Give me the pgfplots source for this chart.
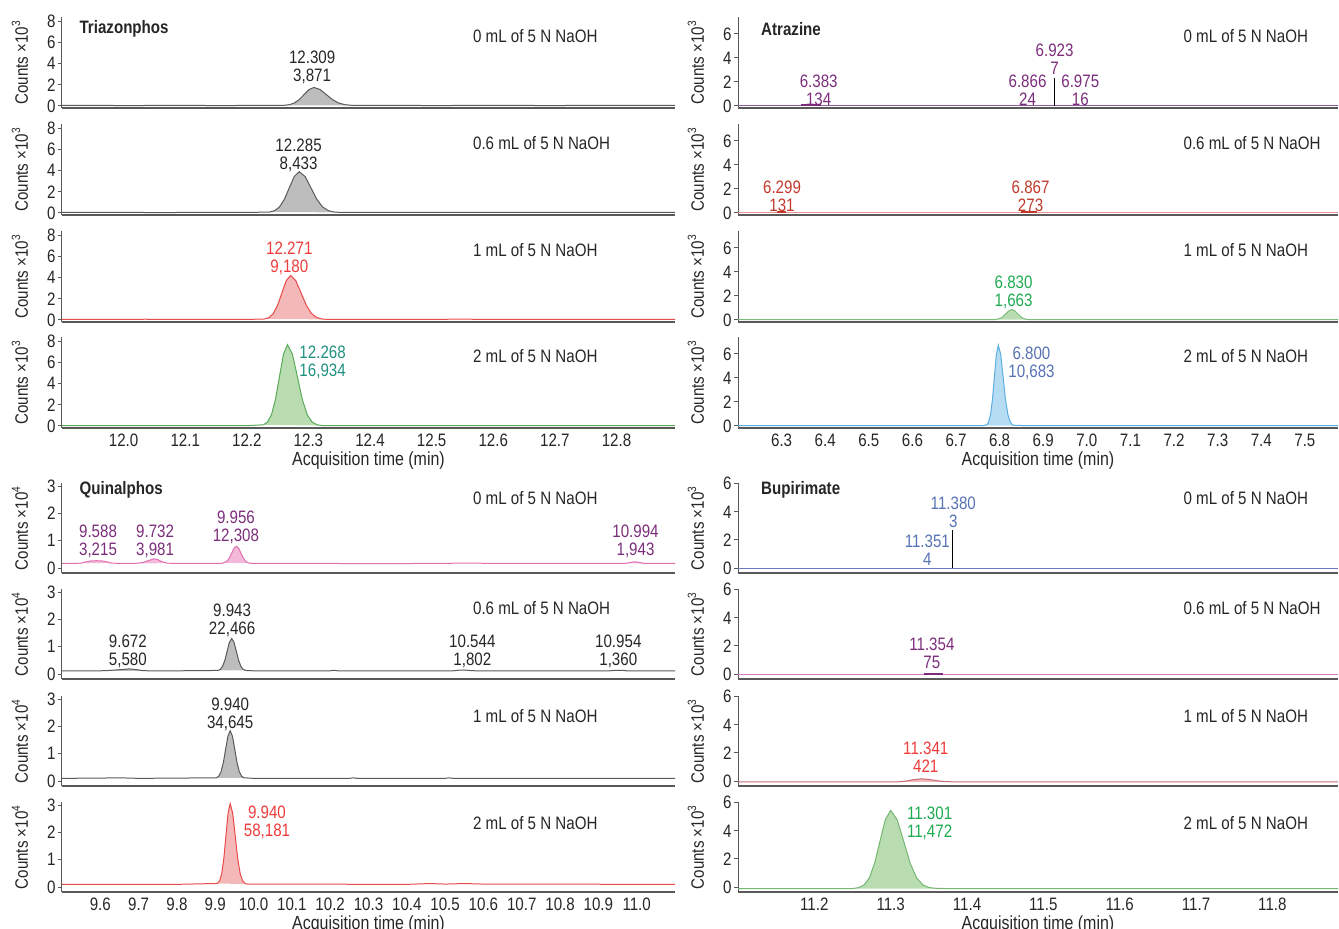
\documentclass[border=0pt]{standalone}
\usepackage{fontspec}
\setmainfont{Liberation Sans}[FakeStretch=0.84]
\usepackage{pgfplots}
\pgfplotsset{compat=1.18}

\definecolor{gline}{HTML}{5A5A5A}
\definecolor{gbase}{HTML}{8A8A8A}
\definecolor{gfill}{HTML}{BDBDBD}
\definecolor{rline}{HTML}{E84A4A}
\definecolor{rfill}{HTML}{F5B8B8}
\definecolor{grline}{HTML}{5AAA5A}
\definecolor{grfill}{HTML}{B9DDB1}
\definecolor{purpline}{HTML}{8E5C9E}
\definecolor{pinkline}{HTML}{E89494}
\definecolor{blline}{HTML}{5AAEE0}
\definecolor{blfill}{HTML}{B6DCF4}
\definecolor{mgline}{HTML}{E070B0}
\definecolor{mgfill}{HTML}{F3B9D9}
\definecolor{bupblue}{HTML}{6A78C8}
\definecolor{buppink}{HTML}{D678C8}
\definecolor{bupred}{HTML}{C46A78}
\definecolor{lpurple}{HTML}{7B2D7B}
\definecolor{lred}{HTML}{EE3B3B}
\definecolor{lteal}{HTML}{1E9080}
\definecolor{ldred}{HTML}{C0392B}
\definecolor{lgreen}{HTML}{1DAA50}
\definecolor{lblue}{HTML}{5672B4}
\definecolor{ltxt}{HTML}{262626}

\tikzset{
  cond/.style={font=\fontsize{9}{9}\selectfont, text=ltxt, anchor=west, inner sep=0pt},
  ttl/.style={font=\bfseries\fontsize{9}{9}\selectfont, text=ltxt, anchor=west, inner sep=0pt},
  lab/.style={font=\fontsize{9}{9}\selectfont, align=center, inner sep=0pt},
}

\pgfplotsset{
  base/.style={
    scale only axis, height=45.5pt, clip mode=individual,
    axis x line*=bottom, axis y line*=left,
    axis line style={-},
    x axis line style={draw=black!65, line width=1.3pt},
    y axis line style={draw=black!65, line width=0.5pt},
    tick align=outside, major tick length=2pt,
    xtick style={draw=none},
    ytick style={draw=black!65, line width=0.5pt},
    tick label style={font=\fontsize{9}{9}\selectfont, text=ltxt},
    yticklabel style={inner sep=1pt},
    /pgf/number format/assume math mode=true,
    xticklabel style={inner sep=1pt, /pgf/number format/.cd, fixed, fixed zerofill, precision=1},
    ylabel style={font=\fontsize{9}{9}\selectfont, text=ltxt, at={([xshift=-13.5pt]axis description cs:0,0.5)}, anchor=south},
    xlabel style={font=\fontsize{9.5}{9.5}\selectfont, text=ltxt, at={([yshift=-11.8pt]axis description cs:0.5,0)}, anchor=north, inner sep=0pt},
    ylabel={Counts ×10\textsuperscript{3}},
    every axis plot/.append style={line width=0.5pt},
  },
  tzp/.style={base, width=306.5pt, xmin=11.9, xmax=12.895, ymin=-0.19, ymax=8.4, ytick={0,2,4,6,8},
    xtick={12.0,12.1,12.2,12.3,12.4,12.5,12.6,12.7,12.8}},
  atz/.style={base, width=300pt, xmin=6.2, xmax=7.576, ymin=-0.17, ymax=7.4, ytick={0,2,4,6},
    xtick={6.3,6.4,6.5,6.6,6.7,6.8,6.9,7.0,7.1,7.2,7.3,7.4,7.5}},
  qnp/.style={base, width=306.5pt, height=45pt, xmin=9.5, xmax=11.1, ymin=-0.18, ymax=3.11, ytick={0,1,2,3},
    xtick={9.6,9.7,9.8,9.9,10.0,10.1,10.2,10.3,10.4,10.5,10.6,10.7,10.8,10.9,11.0},
    ylabel={Counts ×10\textsuperscript{4}}},
  bup/.style={base, width=300pt, height=45pt, xmin=11.1, xmax=11.886, ymin=-0.35, ymax=6.05, ytick={0,2,4,6},
    xtick={11.2,11.3,11.4,11.5,11.6,11.7,11.8}},
  mid/.style={xticklabels={}},
  bot/.style={xlabel={Acquisition time (min)}},
}

\begin{document}
\begin{tikzpicture}
\useasboundingbox (0,0) rectangle (669.5pt,-464pt);

%================ Triazonphos ================
\begin{axis}[tzp, mid, at={(31pt,-54pt)}, anchor=south west]
\addplot[draw=none, fill=gfill] coordinates {(12.261,0.07)(12.269,0.125)(12.277,0.28)(12.285,0.60)(12.293,1.08)(12.301,1.55)(12.309,1.75)(12.319,1.55)(12.329,1.08)(12.339,0.60)(12.349,0.28)(12.359,0.125)(12.369,0.07)(12.379,0.054)} -- cycle;
\addplot[gline] coordinates {(11.9,0.05)(11.95,0.06)(12.0,0.04)(12.05,0.05)(12.1,0.06)(12.15,0.04)(12.2,0.05)(12.25,0.05)(12.261,0.07)(12.269,0.125)(12.277,0.28)(12.285,0.60)(12.293,1.08)(12.301,1.55)(12.309,1.75)(12.319,1.55)(12.329,1.08)(12.339,0.60)(12.349,0.28)(12.359,0.125)(12.369,0.07)(12.379,0.054)(12.4,0.05)(12.45,0.06)(12.5,0.04)(12.55,0.05)(12.6,0.06)(12.65,0.05)(12.7,0.04)(12.75,0.06)(12.8,0.05)(12.85,0.05)(12.895,0.06)};
\node[ttl] at (rel axis cs:0.028,0.87) {Triazonphos};
\node[cond] at (rel axis cs:0.67,0.79) {0 mL of 5 N NaOH};
\node[lab, text=ltxt] at (axis cs:12.306,3.6) {12.309\\3,871};
\end{axis}

\begin{axis}[tzp, mid, at={(31pt,-107.5pt)}, anchor=south west]
\addplot[draw=none, fill=gfill] coordinates {(12.237,0.09)(12.245,0.22)(12.253,0.57)(12.261,1.30)(12.269,2.39)(12.277,3.45)(12.285,3.9)(12.2945,3.45)(12.304,2.39)(12.3135,1.30)(12.323,0.57)(12.3325,0.22)(12.342,0.09)(12.3515,0.06)} -- cycle;
\addplot[gline] coordinates {(11.9,0.05)(11.95,0.06)(12.0,0.06)(12.05,0.04)(12.1,0.05)(12.15,0.05)(12.2,0.05)(12.237,0.09)(12.245,0.22)(12.253,0.57)(12.261,1.30)(12.269,2.39)(12.277,3.45)(12.285,3.9)(12.2945,3.45)(12.304,2.39)(12.3135,1.30)(12.323,0.57)(12.3325,0.22)(12.342,0.09)(12.3515,0.06)(12.4,0.05)(12.5,0.06)(12.6,0.05)(12.7,0.05)(12.8,0.06)(12.895,0.05)};
\node[cond] at (rel axis cs:0.67,0.79) {0.6 mL of 5 N NaOH};
\node[lab, text=ltxt] at (axis cs:12.284,5.45) {12.285\\8,433};
\end{axis}

\begin{axis}[tzp, mid, at={(31pt,-161pt)}, anchor=south west]
\addplot[draw=none, fill=rfill] coordinates {(12.229,0.096)(12.236,0.23)(12.243,0.61)(12.25,1.40)(12.257,2.57)(12.264,3.71)(12.271,4.2)(12.2795,3.71)(12.288,2.57)(12.2965,1.40)(12.305,0.61)(12.3135,0.23)(12.322,0.096)(12.3305,0.06)} -- cycle;
\addplot[rline] coordinates {(11.9,0.05)(12.0,0.05)(12.03,0.05)(12.035,0.09)(12.04,0.05)(12.1,0.05)(12.2,0.05)(12.229,0.096)(12.236,0.23)(12.243,0.61)(12.25,1.40)(12.257,2.57)(12.264,3.71)(12.271,4.2)(12.2795,3.71)(12.288,2.57)(12.2965,1.40)(12.305,0.61)(12.3135,0.23)(12.322,0.096)(12.3305,0.06)(12.4,0.05)(12.5,0.06)(12.55,0.08)(12.6,0.05)(12.7,0.07)(12.8,0.05)(12.895,0.05)};
\node[cond] at (rel axis cs:0.67,0.79) {1 mL of 5 N NaOH};
\node[lab, text=lred] at (axis cs:12.269,5.8) {12.271\\9,180};
\end{axis}

\begin{axis}[tzp, bot, at={(31pt,-214pt)}, anchor=south west]
\addplot[draw=none, fill=grfill] coordinates {(12.227,0.115)(12.2335,0.37)(12.240,1.07)(12.2465,2.51)(12.253,4.67)(12.2595,6.78)(12.266,7.68)(12.274,6.78)(12.282,4.67)(12.29,2.51)(12.298,1.07)(12.306,0.37)(12.314,0.115)(12.322,0.047)(12.33,0.03)} -- cycle;
\addplot[grline] coordinates {(11.9,0.03)(12.0,0.03)(12.1,0.04)(12.2,0.03)(12.227,0.115)(12.2335,0.37)(12.240,1.07)(12.2465,2.51)(12.253,4.67)(12.2595,6.78)(12.266,7.68)(12.274,6.78)(12.282,4.67)(12.29,2.51)(12.298,1.07)(12.306,0.37)(12.314,0.115)(12.322,0.047)(12.33,0.03)(12.5,0.04)(12.7,0.03)(12.895,0.03)};
\node[cond] at (rel axis cs:0.67,0.79) {2 mL of 5 N NaOH};
\node[lab, text=lteal] at (axis cs:12.323,6.05) {12.268\\16,934};
\end{axis}

%================ Atrazine ================
\begin{axis}[atz, mid, at={(369pt,-54pt)}, anchor=south west]
\addplot[purpline] coordinates {(6.2,0.03)(7.576,0.03)};
\addplot[lpurple, line width=0.9pt] coordinates {(6.345,0.08)(6.39,0.08)};
\addplot[black, line width=0.5pt] coordinates {(6.925,0)(6.925,2.3)};
\node[ttl] at (rel axis cs:0.038,0.87) {Atrazine};
\node[cond] at (rel axis cs:0.742,0.79) {0 mL of 5 N NaOH};
\node[lab, text=lpurple] at (axis cs:6.385,1.33) {6.383\\134};
\node[lab, text=lpurple] at (axis cs:6.926,3.9) {6.923\\7};
\node[lab, text=lpurple] at (axis cs:6.864,1.33) {6.866\\24};
\node[lab, text=lpurple] at (axis cs:6.985,1.33) {6.975\\16};
\end{axis}

\begin{axis}[atz, mid, at={(369pt,-107.5pt)}, anchor=south west]
\addplot[pinkline] coordinates {(6.2,0.02)(7.576,0.02)};
\addplot[ldred, line width=0.9pt] coordinates {(6.29,0.07)(6.31,0.07)};
\addplot[ldred, line width=0.9pt] coordinates {(6.85,0.07)(6.885,0.07)};
\node[cond] at (rel axis cs:0.742,0.79) {0.6 mL of 5 N NaOH};
\node[lab, text=ldred] at (axis cs:6.301,1.4) {6.299\\131};
\node[lab, text=ldred] at (axis cs:6.871,1.4) {6.867\\273};
\end{axis}

\begin{axis}[atz, mid, at={(369pt,-161pt)}, anchor=south west]
\addplot[draw=none, fill=grfill] coordinates {(6.789,0.03)(6.802,0.135)(6.8085,0.30)(6.815,0.54)(6.8215,0.77)(6.828,0.87)(6.8345,0.77)(6.841,0.54)(6.8475,0.30)(6.854,0.135)(6.8605,0.057)(6.867,0.03)} -- cycle;
\addplot[grline!80] coordinates {(6.2,0.02)(6.789,0.03)(6.802,0.135)(6.8085,0.30)(6.815,0.54)(6.8215,0.77)(6.828,0.87)(6.8345,0.77)(6.841,0.54)(6.8475,0.30)(6.854,0.135)(6.8605,0.057)(6.867,0.03)(7.576,0.02)};
\node[cond] at (rel axis cs:0.742,0.79) {1 mL of 5 N NaOH};
\node[lab, text=lgreen] at (axis cs:6.832,2.33) {6.830\\1,663};
\end{axis}

\begin{axis}[atz, bot, at={(369pt,-214pt)}, anchor=south west]
\addplot[draw=none, fill=blfill] coordinates {(6.76,0.02)(6.770,0.09)(6.7745,0.31)(6.779,0.93)(6.7835,2.19)(6.788,4.08)(6.7925,5.93)(6.797,6.72)(6.8025,5.93)(6.808,4.08)(6.8135,2.19)(6.819,0.93)(6.8245,0.31)(6.83,0.09)(6.8355,0.04)(6.85,0.04)(6.88,0.02)} -- cycle;
\addplot[blline] coordinates {(6.2,0.02)(6.76,0.02)(6.770,0.09)(6.7745,0.31)(6.779,0.93)(6.7835,2.19)(6.788,4.08)(6.7925,5.93)(6.797,6.72)(6.8025,5.93)(6.808,4.08)(6.8135,2.19)(6.819,0.93)(6.8245,0.31)(6.83,0.09)(6.8355,0.04)(6.85,0.04)(6.88,0.02)(7.576,0.02)};
\node[cond] at (rel axis cs:0.742,0.79) {2 mL of 5 N NaOH};
\node[lab, text=lblue] at (axis cs:6.873,5.2) {6.800\\10,683};
\end{axis}

%================ Quinalphos ================
\begin{axis}[qnp, mid, at={(31pt,-286.5pt)}, anchor=south west]
\addplot[draw=none, fill=mgfill] coordinates {(9.55,0.18)(9.56,0.22)(9.575,0.26)(9.59,0.27)(9.605,0.26)(9.62,0.22)(9.63,0.18)} -- cycle;
\addplot[draw=none, fill=mgfill] coordinates {(9.69,0.17)(9.71,0.20)(9.725,0.27)(9.74,0.34)(9.75,0.31)(9.76,0.24)(9.775,0.18)} -- cycle;
\addplot[draw=none, fill=mgfill] coordinates {(9.919,0.177)(9.931,0.255)(9.937,0.375)(9.943,0.55)(9.949,0.726)(9.955,0.80)(9.961,0.726)(9.967,0.55)(9.973,0.375)(9.979,0.255)(9.985,0.198)(9.991,0.177)} -- cycle;
\addplot[draw=none, fill=mgfill] coordinates {(10.97,0.17)(10.985,0.21)(10.995,0.23)(11.005,0.21)(11.02,0.17)} -- cycle;
\addplot[mgline] coordinates {(9.5,0.17)(9.53,0.17)(9.55,0.18)(9.56,0.22)(9.575,0.26)(9.59,0.27)(9.605,0.26)(9.62,0.22)(9.63,0.18)(9.66,0.17)(9.69,0.17)(9.71,0.20)(9.725,0.27)(9.74,0.34)(9.75,0.31)(9.76,0.24)(9.775,0.18)(9.8,0.17)(9.85,0.17)(9.9,0.17)(9.919,0.177)(9.931,0.255)(9.937,0.375)(9.943,0.55)(9.949,0.726)(9.955,0.80)(9.961,0.726)(9.967,0.55)(9.973,0.375)(9.979,0.255)(9.985,0.198)(9.991,0.177)(10.05,0.17)(10.2,0.17)(10.3,0.16)(10.45,0.17)(10.55,0.18)(10.7,0.17)(10.9,0.17)(10.97,0.17)(10.985,0.21)(10.995,0.23)(11.005,0.21)(11.02,0.17)(11.1,0.17)};
\node[ttl] at (rel axis cs:0.028,0.92) {Quinalphos};
\node[cond] at (rel axis cs:0.67,0.83) {0 mL of 5 N NaOH};
\node[lab, text=lpurple] at (axis cs:9.594,0.99) {9.588\\3,215};
\node[lab, text=lpurple] at (axis cs:9.743,0.99) {9.732\\3,981};
\node[lab, text=lpurple] at (axis cs:9.954,1.5) {9.956\\12,308};
\node[lab, text=lpurple] at (axis cs:10.997,0.99) {10.994\\1,943};
\end{axis}

\begin{axis}[qnp, mid, at={(31pt,-339.5pt)}, anchor=south west]
\addplot[draw=none, fill=gfill] coordinates {(9.6,0.12)(9.62,0.13)(9.64,0.15)(9.66,0.17)(9.675,0.19)(9.69,0.17)(9.71,0.13)(9.725,0.12)} -- cycle;
\addplot[draw=none, fill=gfill] coordinates {(9.907,0.133)(9.913,0.172)(9.919,0.28)(9.925,0.503)(9.931,0.836)(9.937,1.16)(9.943,1.30)(9.949,1.16)(9.955,0.836)(9.961,0.503)(9.967,0.28)(9.973,0.172)(9.979,0.133)} -- cycle;
\addplot[gline] coordinates {(9.5,0.12)(9.55,0.12)(9.6,0.12)(9.62,0.13)(9.64,0.15)(9.66,0.17)(9.675,0.19)(9.69,0.17)(9.71,0.13)(9.725,0.12)(9.8,0.12)(9.907,0.133)(9.913,0.172)(9.919,0.28)(9.925,0.503)(9.931,0.836)(9.937,1.16)(9.943,1.30)(9.949,1.16)(9.955,0.836)(9.961,0.503)(9.967,0.28)(9.973,0.172)(9.979,0.133)(10.0,0.12)(10.2,0.12)(10.21,0.14)(10.22,0.12)(10.52,0.12)(10.535,0.14)(10.55,0.15)(10.565,0.13)(10.58,0.12)(10.93,0.12)(10.945,0.14)(10.96,0.14)(10.975,0.12)(11.1,0.12)};
\node[cond] at (rel axis cs:0.67,0.79) {0.6 mL of 5 N NaOH};
\node[lab, text=ltxt] at (axis cs:9.672,0.84) {9.672\\5,580};
\node[lab, text=ltxt] at (axis cs:9.944,1.98) {9.943\\22,466};
\node[lab, text=ltxt] at (axis cs:10.571,0.84) {10.544\\1,802};
\node[lab, text=ltxt] at (axis cs:10.952,0.84) {10.954\\1,360};
\end{axis}

\begin{axis}[qnp, mid, at={(31pt,-393pt)}, anchor=south west]
\addplot[draw=none, fill=gfill] coordinates {(9.903,0.12)(9.909,0.176)(9.915,0.335)(9.921,0.665)(9.927,1.155)(9.933,1.636)(9.939,1.84)(9.945,1.636)(9.951,1.155)(9.957,0.665)(9.963,0.335)(9.969,0.176)(9.975,0.12)} -- cycle;
\addplot[gline] coordinates {(9.5,0.1)(9.6,0.11)(9.65,0.12)(9.7,0.1)(9.903,0.12)(9.909,0.176)(9.915,0.335)(9.921,0.665)(9.927,1.155)(9.933,1.636)(9.939,1.84)(9.945,1.636)(9.951,1.155)(9.957,0.665)(9.963,0.335)(9.969,0.176)(9.975,0.12)(10.0,0.1)(10.25,0.1)(10.26,0.12)(10.27,0.1)(10.5,0.1)(10.51,0.12)(10.52,0.1)(11.1,0.1)};
\node[cond] at (rel axis cs:0.67,0.78) {1 mL of 5 N NaOH};
\node[lab, text=ltxt] at (axis cs:9.939,2.45) {9.940\\34,645};
\end{axis}

\begin{axis}[qnp, bot, at={(31pt,-446pt)}, anchor=south west]
\addplot[draw=none, fill=rfill] coordinates {(9.906,0.133)(9.9115,0.23)(9.917,0.50)(9.9225,1.058)(9.928,1.889)(9.9335,2.703)(9.939,3.05)(9.9455,2.703)(9.952,1.889)(9.9585,1.058)(9.965,0.50)(9.9715,0.23)(9.978,0.133)(9.9845,0.107)} -- cycle;
\addplot[rline] coordinates {(9.5,0.1)(9.8,0.1)(9.906,0.133)(9.9115,0.23)(9.917,0.50)(9.9225,1.058)(9.928,1.889)(9.9335,2.703)(9.939,3.05)(9.9455,2.703)(9.952,1.889)(9.9585,1.058)(9.965,0.50)(9.9715,0.23)(9.978,0.133)(9.9845,0.107)(10.0,0.11)(10.4,0.1)(10.46,0.13)(10.5,0.11)(10.55,0.13)(10.6,0.11)(11.1,0.1)};
\node[cond] at (rel axis cs:0.67,0.77) {2 mL of 5 N NaOH};
\node[lab, text=lred] at (axis cs:10.035,2.38) {9.940\\58,181};
\end{axis}

%================ Bupirimate ================
\begin{axis}[bup, mid, at={(369pt,-286.5pt)}, anchor=south west]
\addplot[bupblue] coordinates {(11.1,0.0)(11.886,0.0)};
\addplot[black, line width=0.5pt] coordinates {(11.381,0)(11.381,2.7)};
\node[ttl] at (rel axis cs:0.038,0.92) {Bupirimate};
\node[cond] at (rel axis cs:0.742,0.83) {0 mL of 5 N NaOH};
\node[lab, text=lblue] at (axis cs:11.382,4.0) {11.380\\3};
\node[lab, text=lblue] at (axis cs:11.348,1.26) {11.351\\4};
\end{axis}

\begin{axis}[bup, mid, at={(369pt,-339.5pt)}, anchor=south west]
\addplot[buppink] coordinates {(11.1,-0.05)(11.886,-0.05)};
\addplot[lpurple, line width=0.9pt] coordinates {(11.343,0.03)(11.368,0.03)};
\node[cond] at (rel axis cs:0.742,0.79) {0.6 mL of 5 N NaOH};
\node[lab, text=lpurple] at (axis cs:11.354,1.47) {11.354\\75};
\end{axis}

\begin{axis}[bup, mid, at={(369pt,-393pt)}, anchor=south west]
\addplot[draw=none, fill=rfill] coordinates {(11.31,-0.05)(11.32,0.0)(11.33,0.1)(11.34,0.16)(11.35,0.12)(11.36,0.03)(11.37,-0.03)(11.38,-0.05)} -- cycle;
\addplot[bupred] coordinates {(11.1,-0.05)(11.31,-0.05)(11.32,0.0)(11.33,0.1)(11.34,0.16)(11.35,0.12)(11.36,0.03)(11.37,-0.03)(11.38,-0.05)(11.886,-0.05)};
\node[cond] at (rel axis cs:0.742,0.78) {1 mL of 5 N NaOH};
\node[lab, text=lred] at (axis cs:11.346,1.68) {11.341\\421};
\end{axis}

\begin{axis}[bup, bot, at={(369pt,-446pt)}, anchor=south west]
\addplot[draw=none, fill=grfill] coordinates {(11.25,-0.1)(11.258,-0.04)(11.265,0.144)(11.272,0.65)(11.279,1.70)(11.286,3.27)(11.293,4.80)(11.300,5.45)(11.3085,4.80)(11.317,3.27)(11.3255,1.70)(11.334,0.65)(11.3425,0.144)(11.351,-0.04)(11.3595,-0.088)(11.368,-0.1)} -- cycle;
\addplot[grline!85] coordinates {(11.1,-0.1)(11.25,-0.1)(11.258,-0.04)(11.265,0.144)(11.272,0.65)(11.279,1.70)(11.286,3.27)(11.293,4.80)(11.300,5.45)(11.3085,4.80)(11.317,3.27)(11.3255,1.70)(11.334,0.65)(11.3425,0.144)(11.351,-0.04)(11.3595,-0.088)(11.368,-0.1)(11.886,-0.1)};
\node[cond] at (rel axis cs:0.742,0.77) {2 mL of 5 N NaOH};
\node[lab, text=lgreen] at (axis cs:11.351,4.55) {11.301\\11,472};
\end{axis}

\end{tikzpicture}
\end{document}
